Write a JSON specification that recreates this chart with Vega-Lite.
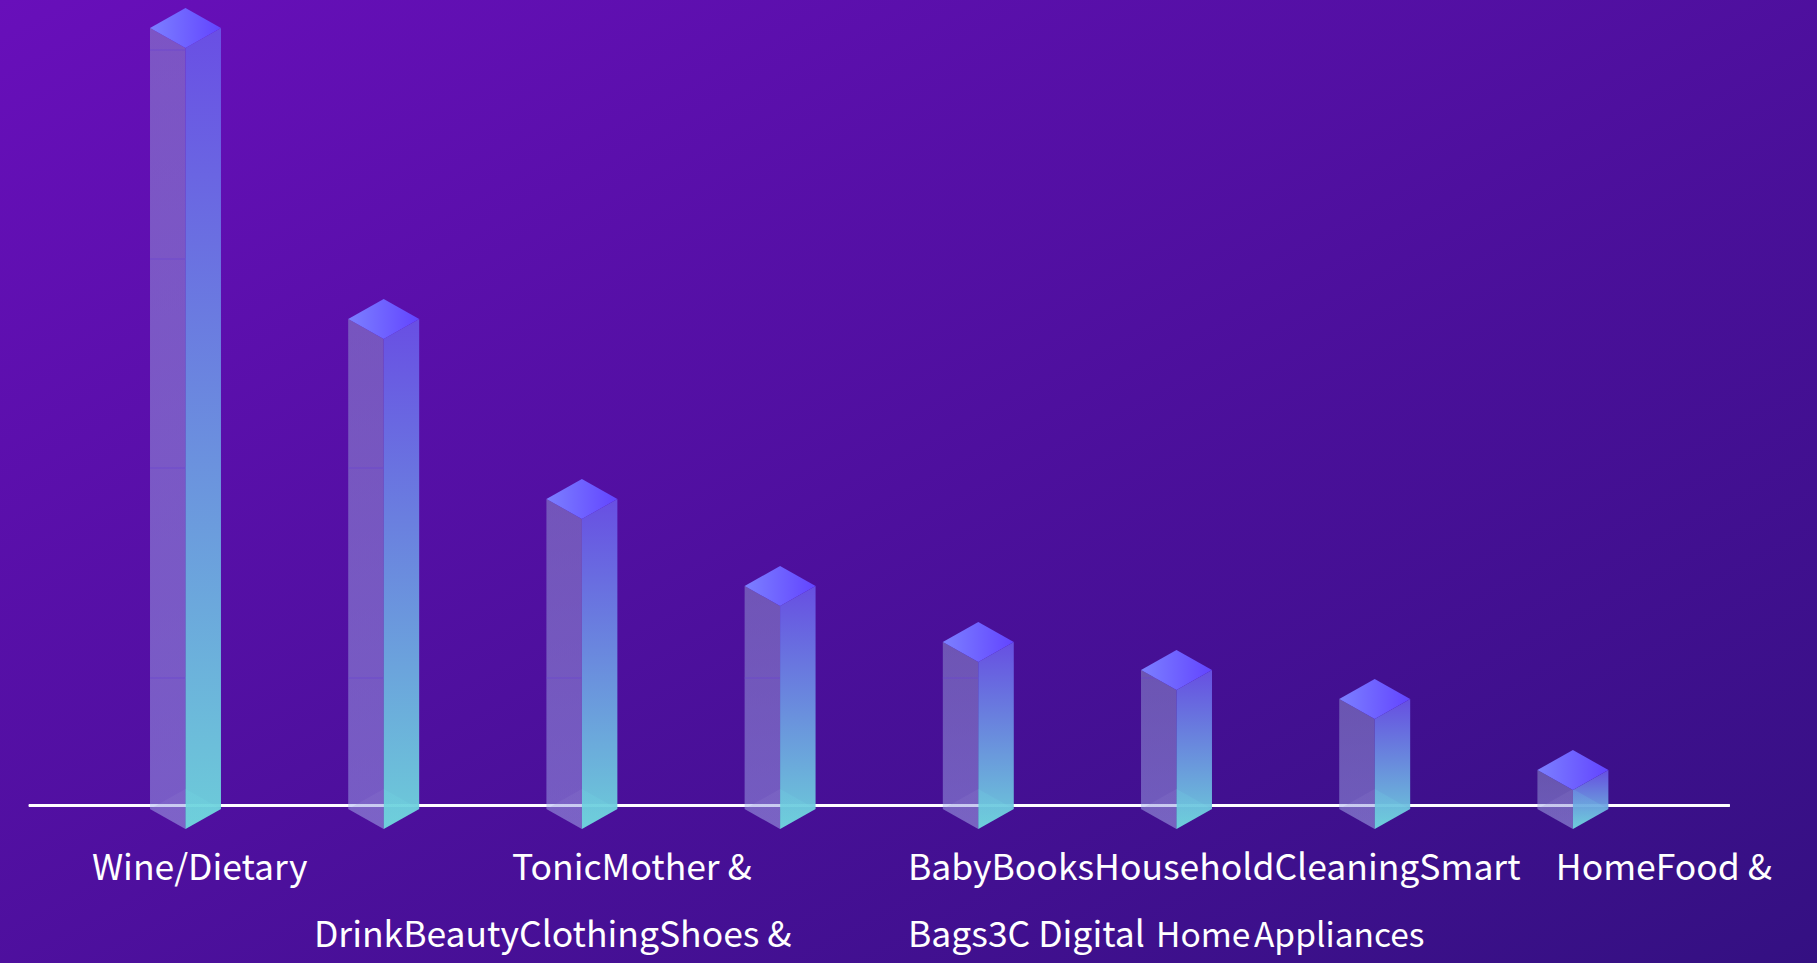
{
  "$schema": "https://vega.github.io/schema/vega-lite/v6.json",
  "width": 1817,
  "height": 963,
  "padding": 0,
  "autosize": {"type": "fit", "contains": "padding"},
  "background": "#4a1099",
  "view": {
    "stroke": null,
    "fill": {
      "gradient": "linear", "x1": 0, "y1": 0, "x2": 1, "y2": 1,
      "stops": [
        {"offset": 0, "color": "#680fba"},
        {"offset": 1, "color": "#341082"}
      ]
    }
  },
  "config": {"axis": {"grid": false}},
  "datasets": {
    "sales": [
      {"category": "Wine/Drink", "value": 777.5},
      {"category": "Dietary Tonic", "value": 486.5},
      {"category": "Beauty", "value": 306.5},
      {"category": "Mother & Baby", "value": 219.5},
      {"category": "Clothing", "value": 163.5},
      {"category": "Shoes & Bags", "value": 135.5},
      {"category": "Books", "value": 106.5},
      {"category": "3C Digital", "value": 35.5}
    ],
    "labels": [
      {"text": "Wine/Dietary", "slot": -0.472, "level": -74.5},
      {"text": "TonicMother &", "slot": 1.647, "level": -74.5},
      {"text": "BabyBooksHouseholdCleaningSmart", "slot": 3.645, "level": -74.5},
      {"text": "HomeFood &", "slot": 6.914, "level": -74.5},
      {"text": "DrinkBeautyClothingShoes &", "slot": 0.648, "level": -141.5},
      {"text": "Bags3C Digital", "slot": 3.645, "level": -141.5}
    ],
    "tightLabels": [
      {"text": "Home", "slot": 4.897, "level": -141.5},
      {"text": "Appliances", "slot": 5.391, "level": -141.5}
    ]
  },
  "data": {"name": "sales"},
  "transform": [
    {"window": [{"op": "row_number", "as": "order"}]},
    {"calculate": "datum.order - 1", "as": "rank"}
  ],
  "layer": [
    {
      "description": "Baseline running under the translucent columns",
      "mark": {"type": "rule", "color": "#ffffff", "strokeWidth": 2},
      "encoding": {
        "x": {"datum": -0.79, "type": "quantitative", "axis": null, "scale": {"domain": [-0.9359, 8.2316], "nice": false, "zero": false}},
        "x2": {"datum": 7.79},
        "y": {"datum": 0, "type": "quantitative", "axis": null, "scale": {"domain": [-157.5, 805.5], "nice": false, "zero": false}}
      }
    },
    {
      "description": "Left face of each column",
      "transform": [
        {"calculate": "[-1, 0]", "as": "side"},
        {"flatten": ["side"]},
        {"calculate": "datum.rank + datum.side * 0.179", "as": "px"},
        {"calculate": "datum.value - 20 * (1 + datum.side)", "as": "upper"},
        {"calculate": "-3.5 - 20 * (1 + datum.side)", "as": "lower"}
      ],
      "mark": {
        "type": "area",
        "fill": {
          "gradient": "linear", "x1": 0, "y1": 0, "x2": 0, "y2": 1,
          "stops": [
            {"offset": 0, "color": "rgba(150,160,212,0.48)"},
            {"offset": 1, "color": "rgba(165,175,240,0.48)"}
          ]
        }
      },
      "encoding": {
        "detail": {"field": "category"},
        "x": {"field": "px", "type": "quantitative", "axis": null, "scale": {"domain": [-0.9359, 8.2316], "nice": false, "zero": false}},
        "y": {"field": "upper", "type": "quantitative", "axis": null, "stack": null, "scale": {"domain": [-157.5, 805.5], "nice": false, "zero": false}},
        "y2": {"field": "lower"}
      }
    },
    {
      "description": "Faint grid lines seen through the left faces",
      "transform": [
        {"calculate": "[127.5, 337.5, 546.5, 755.5]", "as": "level"},
        {"flatten": ["level"]},
        {"filter": "datum.level < datum.value"},
        {"calculate": "datum.rank - 0.179", "as": "px"}
      ],
      "mark": {"type": "rule", "color": "#6a44d0", "strokeWidth": 2, "opacity": 0.35},
      "encoding": {
        "x": {"field": "px", "type": "quantitative", "axis": null, "scale": {"domain": [-0.9359, 8.2316], "nice": false, "zero": false}},
        "x2": {"field": "rank"},
        "y": {"field": "level", "type": "quantitative", "axis": null, "scale": {"domain": [-157.5, 805.5], "nice": false, "zero": false}}
      }
    },
    {
      "description": "Right face of each column",
      "transform": [
        {"calculate": "[0, 1]", "as": "side"},
        {"flatten": ["side"]},
        {"calculate": "datum.rank + datum.side * 0.179", "as": "px"},
        {"calculate": "datum.value - 20 * (1 - datum.side)", "as": "upper"},
        {"calculate": "-3.5 - 20 * (1 - datum.side)", "as": "lower"}
      ],
      "mark": {
        "type": "area",
        "fill": {
          "gradient": "linear", "x1": 0, "y1": 0, "x2": 0, "y2": 1,
          "stops": [
            {"offset": 0, "color": "rgba(106,84,232,0.92)"},
            {"offset": 1, "color": "rgba(110,214,220,0.95)"}
          ]
        }
      },
      "encoding": {
        "detail": {"field": "category"},
        "x": {"field": "px", "type": "quantitative", "axis": null, "scale": {"domain": [-0.9359, 8.2316], "nice": false, "zero": false}},
        "y": {"field": "upper", "type": "quantitative", "axis": null, "stack": null, "scale": {"domain": [-157.5, 805.5], "nice": false, "zero": false}},
        "y2": {"field": "lower"}
      }
    },
    {
      "description": "Floor diamond of each column, glazed over the lower faces",
      "transform": [
        {"calculate": "[-1, 0, 1]", "as": "side"},
        {"flatten": ["side"]},
        {"calculate": "datum.rank + datum.side * 0.179", "as": "px"},
        {"calculate": "-3.5 + 20 * (1 - abs(datum.side))", "as": "upper"},
        {"calculate": "-3.5 - 20 * (1 - abs(datum.side))", "as": "lower"}
      ],
      "mark": {
        "type": "area",
        "fill": {
          "gradient": "linear", "x1": 0, "y1": 0, "x2": 1, "y2": 0,
          "stops": [
            {"offset": 0, "color": "rgba(150,135,210,0.16)"},
            {"offset": 0.5, "color": "rgba(150,135,210,0.16)"},
            {"offset": 0.5, "color": "rgba(120,228,232,0.14)"},
            {"offset": 1, "color": "rgba(120,228,232,0.14)"}
          ]
        }
      },
      "encoding": {
        "detail": {"field": "category"},
        "x": {"field": "px", "type": "quantitative", "axis": null, "scale": {"domain": [-0.9359, 8.2316], "nice": false, "zero": false}},
        "y": {"field": "upper", "type": "quantitative", "axis": null, "stack": null, "scale": {"domain": [-157.5, 805.5], "nice": false, "zero": false}},
        "y2": {"field": "lower"}
      }
    },
    {
      "description": "Top diamond of each column",
      "transform": [
        {"calculate": "[-1, 0, 1]", "as": "side"},
        {"flatten": ["side"]},
        {"calculate": "datum.rank + datum.side * 0.179", "as": "px"},
        {"calculate": "datum.value + 20 * (1 - abs(datum.side))", "as": "upper"},
        {"calculate": "datum.value - 20 * (1 - abs(datum.side))", "as": "lower"}
      ],
      "mark": {
        "type": "area",
        "fill": {
          "gradient": "linear", "x1": 0, "y1": 0, "x2": 1, "y2": 0,
          "stops": [
            {"offset": 0, "color": "#7c80ff"},
            {"offset": 1, "color": "#6244ff"}
          ]
        }
      },
      "encoding": {
        "detail": {"field": "category"},
        "x": {"field": "px", "type": "quantitative", "axis": null, "scale": {"domain": [-0.9359, 8.2316], "nice": false, "zero": false}},
        "y": {"field": "upper", "type": "quantitative", "axis": null, "stack": null, "scale": {"domain": [-157.5, 805.5], "nice": false, "zero": false}},
        "y2": {"field": "lower"}
      }
    },
    {
      "description": "Category words under the baseline",
      "data": {"name": "labels"},
      "transform": [],
      "mark": {"type": "text", "font": "Noto Sans CJK SC", "fontSize": 35.5, "color": "#ffffff", "align": "left", "baseline": "alphabetic"},
      "encoding": {
        "text": {"field": "text"},
        "x": {"field": "slot", "type": "quantitative", "axis": null, "scale": {"domain": [-0.9359, 8.2316], "nice": false, "zero": false}},
        "y": {"field": "level", "type": "quantitative", "axis": null, "scale": {"domain": [-157.5, 805.5], "nice": false, "zero": false}}
      }
    },
    {
      "description": "The tighter words at the end of the second line",
      "data": {"name": "tightLabels"},
      "transform": [],
      "mark": {"type": "text", "font": "Noto Sans CJK SC", "fontSize": 33.5, "color": "#ffffff", "align": "left", "baseline": "alphabetic"},
      "encoding": {
        "text": {"field": "text"},
        "x": {"field": "slot", "type": "quantitative", "axis": null, "scale": {"domain": [-0.9359, 8.2316], "nice": false, "zero": false}},
        "y": {"field": "level", "type": "quantitative", "axis": null, "scale": {"domain": [-157.5, 805.5], "nice": false, "zero": false}}
      }
    }
  ]
}
